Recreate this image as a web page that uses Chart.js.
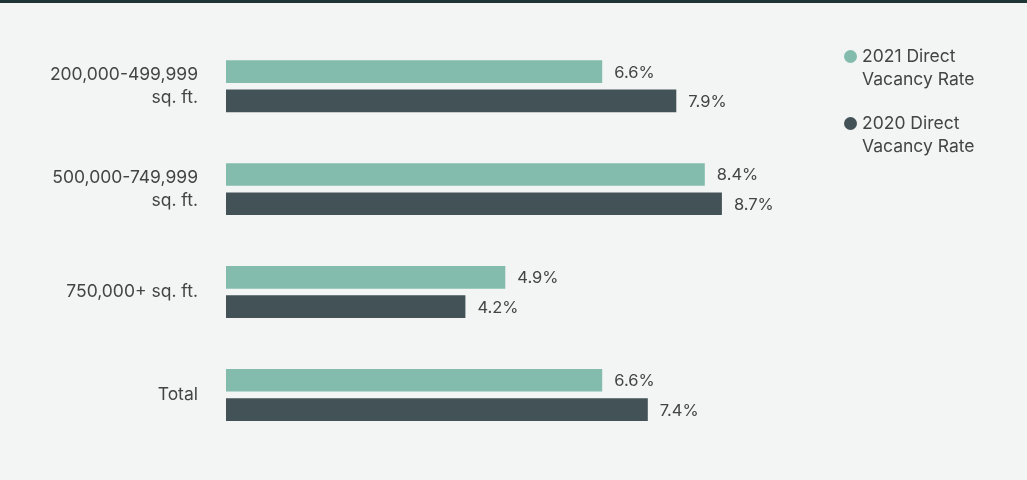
<!DOCTYPE html>
<html>
<head>
<meta charset="utf-8">
<script src="https://cdn.jsdelivr.net/npm/chart.js@4"></script>
<style>
  body { margin: 0; background: #f3f5f4; font-family: Inter, "Noto Sans", sans-serif; overflow: hidden; }
  #wrap { position: relative; width: 1027px; height: 480px; border-top: 3px solid #1d3535; box-sizing: border-box; overflow: hidden; }
  #chart { position: absolute; left: 0; top: 0; }
  #legend { position: absolute; left: 844px; top: 41px; color: #444; font-size: 17.5px; line-height: 23px; }
  .item { position: relative; padding-left: 18px; margin-bottom: 21px; }
  .dot { position: absolute; left: 0; top: 6px; width: 13px; height: 13px; border-radius: 50%; }
</style>
</head>
<body>
<div id="wrap">
  <canvas id="chart" width="1027" height="487"></canvas>
  <div id="legend"></div>
</div>
<script>
var categories = [['200,000-499,999', 'sq. ft.'], ['500,000-749,999', 'sq. ft.'], '750,000+ sq. ft.', 'Total'];
var rate2021 = [6.6, 8.4, 4.9, 6.6];
var rate2020 = [7.9, 8.7, 4.2, 7.4];
var seriesNames = [['2021 Direct', 'Vacancy Rate'], ['2020 Direct', 'Vacancy Rate']];
var seriesColors = ['#83bcad', '#435256'];

var legendHtml = '';
for (var i = 0; i < seriesNames.length; i++) {
    legendHtml += '<div class="item"><span class="dot" style="background:' + seriesColors[i] + '"></span>' +
        seriesNames[i].join('<br>') + '</div>';
}
document.getElementById('legend').innerHTML = legendHtml;

// draw the value labels at the end of each bar
var valueLabels = {
    id: 'valueLabels',
    afterDatasetsDraw: function (chart) {
        var ctx = chart.ctx;
        ctx.save();
        ctx.font = '16.5px Inter, "Noto Sans", sans-serif';
        ctx.fillStyle = '#444';
        ctx.textBaseline = 'middle';
        chart.data.datasets.forEach(function (ds, di) {
            chart.getDatasetMeta(di).data.forEach(function (bar, j) {
                ctx.fillText(ds.data[j].toFixed(1) + '%', bar.x + 12, bar.y + 1);
            });
        });
        ctx.restore();
    }
};

new Chart(document.getElementById('chart'), {
    type: 'bar',
    data: {
        labels: categories,
        datasets: [{
            label: '2021 Direct Vacancy Rate',
            data: rate2021,
            backgroundColor: seriesColors[0]
        }, {
            label: '2020 Direct Vacancy Rate',
            data: rate2020,
            backgroundColor: seriesColors[1]
        }]
    },
    options: {
        indexAxis: 'y',
        responsive: false,
        animation: false,
        categoryPercentage: 0.569,
        barPercentage: 0.774,
        layout: { padding: { top: 9, bottom: 0, right: 231, left: 0 } },
        plugins: { legend: { display: false }, tooltip: { enabled: false } },
        scales: {
            x: { min: 0, max: 10, display: false },
            y: {
                grid: { display: false },
                border: { display: false },
                afterFit: function (scale) { scale.width = 226; },
                ticks: {
                    color: '#444',
                    padding: 20,
                    font: { size: 17.5, family: 'Inter, "Noto Sans", sans-serif', lineHeight: 1.35 }
                }
            }
        }
    },
    plugins: [valueLabels]
});
</script>
</body>
</html>
